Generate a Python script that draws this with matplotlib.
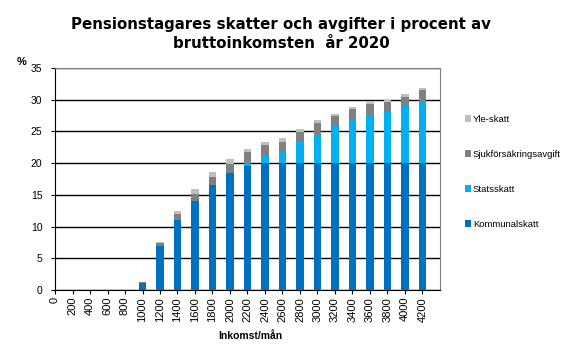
import numpy as np
import matplotlib
matplotlib.use('Agg')
import matplotlib.pyplot as plt

# data
income = ['0', '200', '400', '600', '800', '1000', '1200', '1400', '1600', '1800', '2000',
          '2200', '2400', '2600', '2800', '3000', '3200', '3400', '3600', '3800', '4000', '4200']
kommunalskatt = [0, 0, 0, 0, 0, 1.15, 7.0, 11.0, 14.1, 16.5, 18.4,
                 19.5, 20.0, 20.0, 20.0, 20.0, 20.0, 20.0, 20.0, 20.0, 20.0, 20.0]
statsskatt = [0, 0, 0, 0, 0, 0, 0, 0, 0, 0, 0,
              0.6, 1.05, 1.7, 3.3, 4.5, 5.8, 6.75, 7.6, 8.2, 8.95, 9.8]
sjukforsakring = [0, 0, 0, 0, 0, 0.15, 0.45, 0.95, 1.05, 1.3, 1.4,
                  1.6, 1.8, 1.6, 1.6, 1.8, 1.6, 1.8, 1.7, 1.5, 1.55, 1.7]
yleskatt = [0, 0, 0, 0, 0, 0, 0.15, 0.45, 0.7, 0.8, 0.8,
            0.6, 0.5, 0.6, 0.5, 0.5, 0.4, 0.3, 0.3, 0.3, 0.35, 0.3]

series = [
    ('Kommunalskatt', kommunalskatt, '#0070C0'),
    ('Statsskatt', statsskatt, '#00B0F0'),
    ('Sjukförsäkringsavgift', sjukforsakring, '#808080'),
    ('Yle-skatt', yleskatt, '#BFBFBF'),
]

plt.rcParams['font.family'] = ['Liberation Sans', 'DejaVu Sans']

fig = plt.figure(figsize=(5.83, 3.56), dpi=100)
ax = fig.add_axes([55/583, 66/356, 385/583, 222/356])

x = np.arange(len(income))
bottom = np.zeros(len(income))
handles = []
for name, vals, col in series:
    vals = np.array(vals)
    b = ax.bar(x, vals, width=0.42, bottom=bottom, color=col, label=name, zorder=3)
    handles.append(b)
    bottom += vals

ax.set_xlim(0, 22)
ax.set_ylim(0, 35)
ax.set_yticks(np.arange(0, 36, 5))
ax.set_xticks(x)
ax.set_xticklabels(income, rotation=90, fontsize=8)
ax.tick_params(axis='y', labelsize=7.5, length=3, width=0.8, pad=6)
ax.tick_params(axis='x', length=3, width=0.8, pad=2)

ax.yaxis.grid(True, color='black', linewidth=1, zorder=0)
ax.set_axisbelow(True)
for s in ['top', 'right']:
    ax.spines[s].set_color('#808080')
for s in ['left', 'bottom']:
    ax.spines[s].set_color('black')

fig.text(22/583, 1 - 62/356, '%', fontsize=8, fontweight='bold', ha='center', va='center')
fig.text(250/583, 1 - 336/356, 'Inkomst/mån', fontsize=7.5, fontweight='bold', ha='center', va='center')

fig.text(281/583, 1 - 17/356, 'Pensionstagares skatter och avgifter i procent av\nbruttoinkomsten  år 2020',
         fontsize=10.8, fontweight='bold', ha='center', va='top', family=['DejaVu Sans'],
         linespacing=1.35)

leg = fig.legend(handles[::-1], [s[0] for s in series][::-1], loc='upper left',
                 bbox_to_anchor=(461/583, 1 - 111/356), frameon=False, fontsize=6.8,
                 labelspacing=2.75, handlelength=0.65, handleheight=0.65, handletextpad=0.2,
                 borderaxespad=0)

fig.savefig('out.png', dpi=100)
